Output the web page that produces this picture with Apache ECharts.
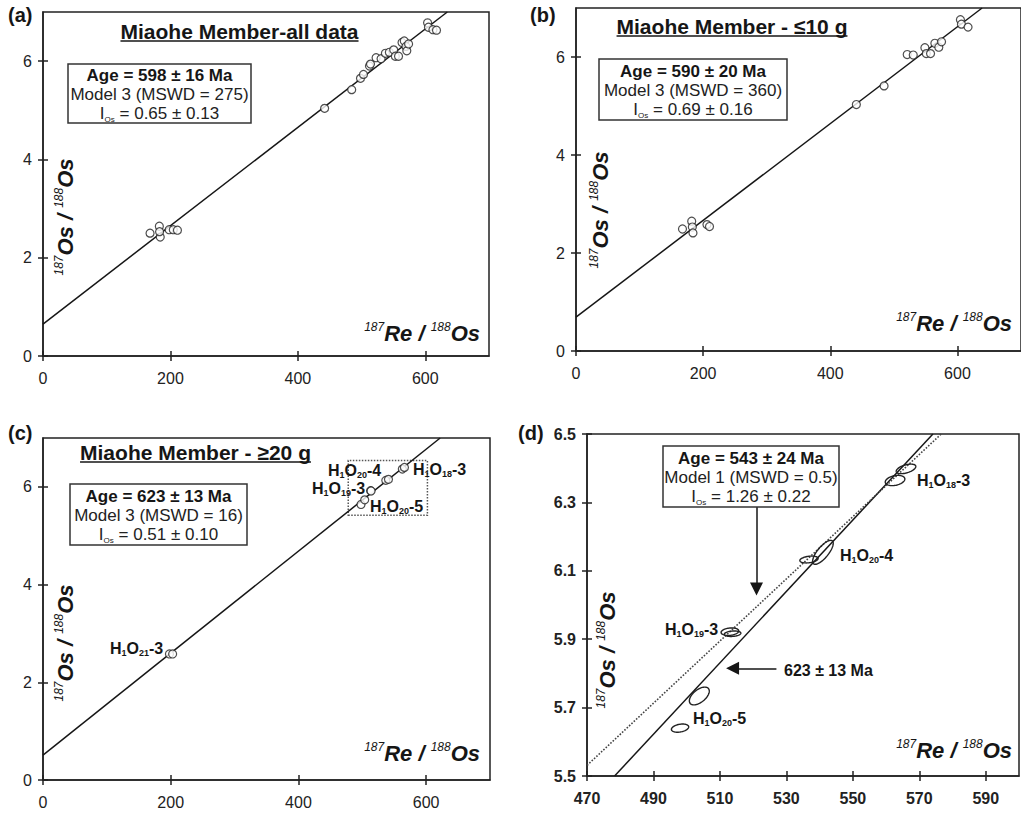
<!DOCTYPE html>
<html><head><meta charset="utf-8">
<script src="https://cdn.jsdelivr.net/npm/echarts@6/dist/echarts.min.js"></script>
<style>html,body{margin:0;padding:0;background:#fff}#c{width:1021px;height:813px}</style>
</head><body><div id="c"></div>
<script>
// ---------------- data ----------------
// (a) Miaohe Member - all data
const aX = [168, 182.6, 184, 183, 198, 204.5, 211, 442, 484.5, 498.3, 503, 512.4, 514, 522.8, 530.6, 537.4, 543.6, 550.4, 553, 558, 563.5, 567, 569.7, 571, 573.8, 603.6, 605, 612, 617.6];
const aY = [2.50, 2.64, 2.42, 2.53, 2.57, 2.57, 2.56, 5.04, 5.42, 5.65, 5.73, 5.90, 5.94, 6.07, 6.05, 6.16, 6.18, 6.23, 6.10, 6.10, 6.38, 6.41, 6.30, 6.21, 6.35, 6.78, 6.69, 6.64, 6.63];
// (b) Miaohe Member - <=10 g
const bX = [167.5, 182, 183, 184, 206, 210, 441, 484.6, 521, 530.5, 548.8, 551, 557.7, 564.5, 570.7, 575, 604.7, 606.3, 616.7];
const bY = [2.49, 2.65, 2.53, 2.41, 2.58, 2.54, 5.03, 5.41, 6.05, 6.04, 6.19, 6.07, 6.07, 6.28, 6.20, 6.31, 6.76, 6.67, 6.61];
// (c) Miaohe Member - >=20 g
const cX = [198, 203, 498, 503.8, 513, 513.8, 536.8, 541, 562.7, 566];
const cY = [2.58, 2.58, 5.640, 5.734, 5.922, 5.916, 6.133, 6.154, 6.364, 6.398];
// (d) error ellipses: centre x, centre y, half-width x, half-width y, correlation
const dCx  = [566,   562.7, 541,   536.8, 513,   513.8, 503.8, 498];
const dCy  = [6.398, 6.364, 6.154, 6.133, 5.922, 5.916, 5.734, 5.640];
const dA   = [2.95,  2.95,  3.1,   2.75,  2.65,  2.5,   3.0,   2.6];
const dB   = [0.014, 0.015, 0.035, 0.010, 0.011, 0.008, 0.026, 0.012];
const dRho = [0.5,   0.3,   0.75,  0.3,   0.2,   0.2,   0.55,  0.3];
// isochron lines (end points)
const lineA = [[0, 0.65], [634.5, 7]];
const lineB = [[0, 0.69], [638.8, 7]];
const lineC = [[0, 0.51], [622, 7]];
const lineD623 = [[478.3, 5.5], [574.1, 6.5]];
const lineD543 = [[470, 5.531], [576.6, 6.5]];
// dotted zoom box in (c) and arrows in (d)
const boxC = [[478, 5.42], [602, 6.54]];
const arrowBox = [[521, 6.287], [521, 6.047]];
const arrowAge = [[527, 5.815], [513.8, 5.815]];
// ticks
const xTicksABC = [0, 200, 400, 600];
const yTicksABC = [0, 2, 4, 6];
const xTicksD = [470, 490, 510, 530, 550, 570, 590];
const yTicksD = [5.5, 5.7, 5.9, 6.1, 6.3, 6.5];
// texts
const titles = ['Miaohe Member-all data', 'Miaohe Member - \u226410 g', 'Miaohe Member - \u226520 g'];
const ages = ['Age = 598 \u00b1 16 Ma', 'Age = 590 \u00b1 20 Ma', 'Age = 623 \u00b1 13 Ma', 'Age = 543 \u00b1 24 Ma'];
const models = ['Model 3 (MSWD = 275)', 'Model 3 (MSWD = 360)', 'Model 3 (MSWD = 16)', 'Model 1 (MSWD = 0.5)'];
const ios = [' = 0.65 \u00b1 0.13', ' = 0.69 \u00b1 0.16', ' = 0.51 \u00b1 0.10', ' = 1.26 \u00b1 0.22'];

// ---------------- chart ----------------
const FONT = "'Liberation Sans', Arial, Helvetica, sans-serif";
const INK = '#161616';
const pairs = (xs, ys) => xs.map((x, i) => [x, ys[i]]);

const grids = [
  {left: 43, top: 12, width: 446, height: 344},
  {left: 576, top: 8, width: 447, height: 343},
  {left: 43, top: 438, width: 447, height: 342},
  {left: 587, top: 434, width: 432, height: 342}
].map(g => Object.assign(g, {show: true, borderColor: '#222', borderWidth: 1.5, backgroundColor: 'transparent'}));

function axes(dim, gi, min, max, ticks, fmt, bold) {
  const pos = dim === 'x' ? 'bottom' : 'left';
  const tickStyle = {color: '#222', width: 1.5};
  return [{
    type: 'value', gridIndex: gi, min, max, position: pos,
    axisLine: {show: true, onZero: false, lineStyle: {color: '#222', width: 1.5}},
    axisTick: {show: true, length: 5, customValues: ticks, lineStyle: tickStyle},
    axisLabel: {customValues: ticks, margin: dim === 'x' ? 14 : 11, fontSize: 16, color: '#222',
      fontFamily: FONT, fontWeight: bold ? 'bold' : 'normal', formatter: fmt},
    splitLine: {show: false}
  }, {
    type: 'value', gridIndex: gi, min, max, position: pos, offset: 0,
    axisLine: {show: false, onZero: false},
    axisTick: {show: true, inside: true, length: 5, customValues: ticks, lineStyle: tickStyle},
    axisLabel: {show: false}, splitLine: {show: false}
  }];
}
const xAxis = [].concat(
  axes('x', 0, 0, 700, xTicksABC), axes('x', 1, 0, 700, xTicksABC),
  axes('x', 2, 0, 700, xTicksABC), axes('x', 3, 470, 600, xTicksD, null, true));
const yAxis = [].concat(
  axes('y', 0, 0, 7, yTicksABC), axes('y', 1, 0, 7, yTicksABC),
  axes('y', 2, 0, 7, yTicksABC), axes('y', 3, 5.5, 6.5, yTicksD, v => v.toFixed(1), true));

const lineStyleSolid = {color: INK, width: 1.5};
function iso(p, data, extra) {
  return Object.assign({type: 'line', xAxisIndex: 2 * p, yAxisIndex: 2 * p, data, symbol: 'none',
    silent: true, lineStyle: lineStyleSolid, z: 2}, extra || {});
}
function pts(p, xs, ys) {
  return {type: 'scatter', xAxisIndex: 2 * p, yAxisIndex: 2 * p, data: pairs(xs, ys), symbol: 'circle',
    symbolSize: 8, silent: true, z: 3, itemStyle: {color: '#fff', borderColor: '#222', borderWidth: 1.2}};
}

const ellipses = dCx.map((x, i) => [x, dCy[i], dA[i], dB[i], dRho[i]]);

const series = [
  iso(0, lineA), pts(0, aX, aY),
  iso(1, lineB), pts(1, bX, bY),
  iso(2, lineC, {markArea: {silent: true, itemStyle: {color: 'rgba(0,0,0,0)', borderColor: '#555', borderWidth: 1.5, borderType: 'dotted'},
    data: [[{coord: boxC[0]}, {coord: boxC[1]}]]}}), pts(2, cX, cY),
  iso(3, lineD623, {markLine: {silent: true, symbol: ['none', 'triangle'], symbolSize: 13, label: {show: false},
    lineStyle: {color: INK, width: 1.5, type: 'solid'}, emphasis: {disabled: true},
    data: [[{coord: arrowBox[0]}, {coord: arrowBox[1]}], [{coord: arrowAge[0]}, {coord: arrowAge[1]}]]}}),
  iso(3, lineD543, {lineStyle: {color: '#444', width: 1.6, type: 'dotted'}}),
  {type: 'custom', xAxisIndex: 6, yAxisIndex: 6, data: ellipses, encode: {x: 0, y: 1}, silent: true, z: 4,
    renderItem(params, api) {
      const cx = api.value(0), cy = api.value(1), a = api.value(2), b = api.value(3), r = api.value(4);
      const p = [];
      const n = 60;
      for (let i = 0; i < n; i++) {
        const t = i / n * 2 * Math.PI;
        p.push(api.coord([cx + a * Math.cos(t), cy + b * (r * Math.cos(t) + Math.sqrt(1 - r * r) * Math.sin(t))]));
      }
      return {type: 'polygon', shape: {points: p}, style: {fill: 'none', stroke: '#222', lineWidth: 1.4}};
    }}
];

// ---------------- annotations ----------------
function T(x, y, text, o) {
  o = o || {};
  return {type: 'text', x, y, rotation: o.rot || 0, z: 100, silent: true,
    style: {legacy: false, text, fill: INK, fontFamily: FONT, fontSize: o.size || 16,
      fontWeight: o.weight || 'normal', fontStyle: o.fstyle || 'normal',
      align: o.align || 'left', verticalAlign: o.va || 'middle', rich: o.rich, lineHeight: o.lh}};
}
const richAxis = {
  m: {fontFamily: FONT, fontSize: 22, fontWeight: 'bold', fontStyle: 'italic', fill: INK, lineHeight: 25},
  sup: {fontFamily: FONT, fontSize: 12, fontStyle: 'italic', fill: INK, verticalAlign: 'top', lineHeight: 12}
};
const richLab = {
  m: {fontFamily: FONT, fontSize: 16, fontWeight: 'bold', fill: INK, lineHeight: 18},
  sub: {fontFamily: FONT, fontSize: 9, fontWeight: 'bold', fill: INK, verticalAlign: 'bottom', lineHeight: 10}
};
const richBox = {
  b: {fontFamily: FONT, fontSize: 17, fontWeight: 'bold', fill: INK, lineHeight: 19},
  n: {fontFamily: FONT, fontSize: 17, fill: '#222', lineHeight: 19},
  s: {fontFamily: FONT, fontSize: 8, fill: '#222', lineHeight: 10, verticalAlign: 'bottom'}
};
const xName = '{sup|187}{m|Re / }{sup|188}{m|Os}';
const yName = '{sup|187}{m|Os / }{sup|188}{m|Os}';
const lab = (n, s, tail) => `{m|H}{sub|1}{m|O}{sub|${s}}{m|-${tail}}`;

const mc = document.createElement('canvas').getContext('2d');
mc.font = `bold 21px ${FONT}`;
function title(cx, cy, uy, text) {
  const w = mc.measureText(text).width;
  return [T(cx, cy, text, {size: 21, weight: 'bold', align: 'center'}),
    {type: 'line', silent: true, z: 100, shape: {x1: cx - w / 2, y1: uy, x2: cx + w / 2, y2: uy}, style: {stroke: INK, lineWidth: 1.5}}];
}
function infoBox(i, x, y, w, h) {
  const txt = `{b|${ages[i]}}\n{n|${models[i]}}\n{n|I}{s|Os}{n|${ios[i]}}`;
  return [{type: 'rect', silent: true, z: 99, shape: {x, y, width: w, height: h}, style: {fill: '#fff', stroke: '#333', lineWidth: 1.5}},
    T(x + w / 2, y + h / 2 + 1, txt, {align: 'center', rich: richBox})];
}

const elements = [].concat(
  T(8, 15, '(a)', {size: 20, weight: 'bold'}),
  T(530, 15, '(b)', {size: 20, weight: 'bold'}),
  T(8, 433, '(c)', {size: 20, weight: 'bold'}),
  T(518, 433, '(d)', {size: 20, weight: 'bold'}),
  title(239.5, 31, 41, titles[0]),
  title(732, 26, 36, titles[1]),
  title(195.5, 452, 462, titles[2]),
  infoBox(0, 68, 64, 183, 59),
  infoBox(1, 599, 59, 188, 61),
  infoBox(2, 70, 484, 177, 61),
  infoBox(3, 663, 446, 176, 61),
  // axis names
  T(480, 333, xName, {align: 'right', rich: richAxis}),
  T(65, 217, yName, {align: 'center', rich: richAxis, rot: Math.PI / 2}),
  T(1012, 323, xName, {align: 'right', rich: richAxis}),
  T(600, 210, yName, {align: 'center', rich: richAxis, rot: Math.PI / 2}),
  T(480, 753, xName, {align: 'right', rich: richAxis}),
  T(65, 643, yName, {align: 'center', rich: richAxis, rot: Math.PI / 2}),
  T(1012, 750, xName, {align: 'right', rich: richAxis}),
  T(607, 650, yName, {align: 'center', rich: richAxis, rot: Math.PI / 2}),
  // sample labels (c)
  T(328, 470, lab(1, '20', '4'), {rich: richLab}),
  T(413, 469, lab(1, '18', '3'), {rich: richLab}),
  T(312, 488, lab(1, '19', '3'), {rich: richLab}),
  T(370, 506, lab(1, '20', '5'), {rich: richLab}),
  T(110, 648, lab(1, '21', '3'), {rich: richLab}),
  // sample labels (d)
  T(917, 480, lab(1, '18', '3'), {rich: richLab}),
  T(840, 555, lab(1, '20', '4'), {rich: richLab}),
  T(665, 629, lab(1, '19', '3'), {rich: richLab}),
  T(693, 718, lab(1, '20', '5'), {rich: richLab}),
  T(784, 670, '623 \u00b1 13 Ma', {weight: 'bold'})
);

const chart = echarts.init(document.getElementById('c'), null, {renderer: 'svg'});
chart.setOption({
  animation: false,
  backgroundColor: '#fff',
  textStyle: {fontFamily: FONT},
  grid: grids,
  xAxis, yAxis, series,
  graphic: {elements}
});
</script></body></html>
